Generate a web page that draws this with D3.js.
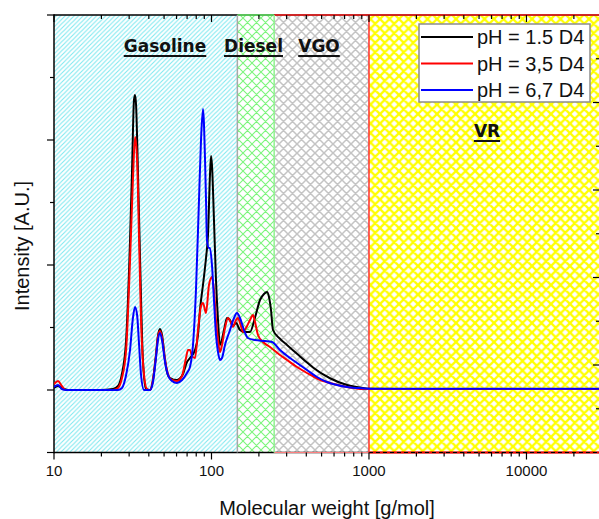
<!DOCTYPE html>
<html><head><meta charset="utf-8">
<script src="https://cdn.jsdelivr.net/npm/d3@7"></script>
<style>html,body{margin:0;padding:0;background:#fff;} svg{display:block;font-family:"Liberation Sans",Arial,sans-serif;}</style>
</head><body><svg id="c" width="599" height="519"></svg>
<script>
// ---------------- data ----------------
const seriesNames = ["pH = 1.5 D4", "pH = 3,5 D4", "pH = 6,7 D4"];
const seriesColors = ["#000000", "#ff0000", "#0000ff"];

const mwBlack = [10,10.6,11.2,12.3,19.6,23.7,25.5,27.0,28.7,30.4,31.3,32.2,32.7,33.2,34.1,35.2,36.7,38.4,40.7,42.5,44.4,45.7,47.1,48.5,50.7,52.2,54.5,60.4,65.9,69.9,73.0,78.6,82.1,84.5,88.3,92.3,95.0,97.8,99.3,100.7,103.7,106.8,110.0,113.2,120.1,125.4,131.1,136.9,143.1,151.7,163.2,175.6,189.0,203.2,215.4,225.1,231.8,238.7,245.8,272.2,301.6,349.2,403.9,441.0,565.4,725.2,916.1,1014.6,1573,29300];
const intBlack = [0.016,0.032,0.016,0,0,0.008,0.032,0.128,0.40,1.20,1.76,2.32,2.36,2.28,1.76,1.04,0.24,0.008,0,0.08,0.28,0.432,0.488,0.44,0.24,0.144,0.096,0.08,0.128,0.224,0.256,0.32,0.44,0.64,0.84,1.056,1.24,1.72,1.872,1.80,1.36,0.88,0.56,0.36,0.48,0.576,0.56,0.512,0.536,0.48,0.464,0.464,0.58,0.72,0.768,0.784,0.744,0.64,0.48,0.41,0.36,0.29,0.22,0.18,0.094,0.04,0.016,0.01,0.008,0.008];

const mwRed = [10,10.6,11.2,11.9,19.6,23.7,25.5,27.0,28.7,30.4,31.7,32.7,33.7,34.7,35.7,37.3,38.9,40.7,42.5,44.4,45.7,47.1,48.5,50.7,52.9,56.1,60.4,65.0,68.9,70.9,73.0,75.2,78.6,82.1,85.8,88.3,92.3,96.4,100.7,103.7,106.8,110.0,113.2,116.6,121.8,127.3,133.0,136.9,143.1,147.3,153.9,158.5,165.6,175.6,183.5,189.0,197.4,212.3,235.2,272.2,301.6,349.2,403.9,474.5,565.4,725.2,916.1,1014.6,1573,29300];
const intRed = [0.048,0.072,0.032,0,0,0,0.016,0.096,0.32,1.04,1.68,2.024,1.84,1.20,0.56,0.12,0.008,0,0.08,0.272,0.424,0.472,0.424,0.24,0.128,0.08,0.072,0.112,0.256,0.32,0.32,0.272,0.256,0.48,0.672,0.696,0.616,0.84,0.904,0.80,0.56,0.40,0.304,0.36,0.496,0.576,0.536,0.504,0.56,0.576,0.512,0.464,0.496,0.56,0.60,0.544,0.44,0.384,0.344,0.28,0.24,0.184,0.136,0.088,0.056,0.024,0.008,0.008,0.008,0.008];

const mwBlue = [10,10.6,11.2,11.9,25.5,27.0,28.7,30.4,31.7,32.7,33.7,34.7,35.7,37.3,40.7,42.5,44.4,45.7,47.1,48.5,50.7,52.9,56.1,60.4,65.0,69.9,73.0,76.3,79.7,83.3,85.8,88.3,91.0,92.3,93.6,96.4,97.8,100.7,103.7,106.8,110.0,113.2,116.6,121.8,131.1,139.0,145.2,151.7,160.8,170.5,189.0,218.7,242.2,272.2,315.1,349.2,403.9,467.6,541.2,626.4,725.2,839.2,1014.6,1573,29300];
const intBlue = [0.024,0.04,0.008,0,0,0.016,0.12,0.32,0.576,0.664,0.60,0.36,0.12,0,0,0.064,0.256,0.40,0.456,0.40,0.224,0.12,0.072,0.056,0.08,0.136,0.184,0.36,0.80,1.52,2.0,2.248,1.84,1.52,1.20,1.136,1.136,1.0,0.72,0.44,0.304,0.24,0.256,0.36,0.48,0.576,0.616,0.576,0.48,0.416,0.40,0.392,0.384,0.32,0.256,0.216,0.16,0.104,0.064,0.04,0.024,0.016,0.01,0.01,0.01];

const regionNames = ["Gasoline", "Diesel", "VGO", "VR"];
const regionStart = [10, 146, 250, 1000];
const regionEnd   = [146, 250, 1000, 29300];

const xDomain = [10, 29300];
const yDomain = [-0.5, 3];
const y2Domain = [0, 10];
const xTickLabels = ["10", "100", "1000", "10000"];
const xMajor = [10, 100, 1000, 10000];

// ---------------- layout ----------------
const L = 54, R = 600, T = 15, B = 452.5;
const svg = d3.select("#c");
svg.append("rect").attr("width", 599).attr("height", 519).attr("fill", "#fff");

const x = d3.scaleLog().domain(xDomain).range([L, R]);
const y = d3.scaleLinear().domain(yDomain).range([B, T]);
const y2 = d3.scaleLinear().domain(y2Domain).range([B, T]);

const defs = svg.append("defs");
function pat(id, s, color, w, cross) {
  const p = defs.append("pattern").attr("id", id).attr("patternUnits", "userSpaceOnUse")
    .attr("width", s).attr("height", s);
  p.append("rect").attr("width", s).attr("height", s).attr("fill", "#fff");
  let d = `M0,${s} L${s},0 M-1,1 L1,-1 M${s-1},${s+1} L${s+1},${s-1}`;
  if (cross) d += ` M0,0 L${s},${s} M-1,${s-1} L1,${s+1} M${s-1},-1 L${s+1},1`;
  p.append("path").attr("d", d).attr("stroke", color).attr("stroke-width", w).attr("fill", "none");
}
pat("pGas", 4.5, "#7ee9f0", 1.1, false);
pat("pDie", 9, "#7cf57c", 1.1, true);
pat("pVgo", 9, "#c4c4c4", 1.5, true);
pat("pVr", 9.5, "#ffff00", 2.3, true);
const fills = ["url(#pGas)", "url(#pDie)", "url(#pVgo)", "url(#pVr)"];

defs.append("clipPath").attr("id", "plotClip").append("rect")
  .attr("x", L).attr("y", T).attr("width", R - L).attr("height", B - T);

const gReg = svg.append("g").attr("clip-path", "url(#plotClip)");
regionNames.forEach((n, i) => {
  gReg.append("rect")
    .attr("x", x(regionStart[i])).attr("y", T)
    .attr("width", x(regionEnd[i]) - x(regionStart[i])).attr("height", B - T)
    .attr("fill", fills[i]);
});

// axis frame
const ax = svg.append("g").attr("stroke", "#000").attr("stroke-width", 1.5).attr("fill", "none");
ax.append("line").attr("x1", L).attr("x2", R).attr("y1", B).attr("y2", B);
ax.append("line").attr("x1", L).attr("x2", R).attr("y1", T).attr("y2", T);
ax.append("line").attr("x1", L).attr("x2", L).attr("y1", T - 0.75).attr("y2", B + 0.75);

// region borders
defs.append("clipPath").attr("id", "plotClip2").append("rect")
  .attr("x", L).attr("y", T - 2).attr("width", R - L).attr("height", B - T + 4);
const bd = svg.append("g").attr("fill", "none").attr("clip-path", "url(#plotClip2)");
bd.append("line").attr("x1", x(regionStart[1])).attr("x2", x(regionEnd[1])).attr("y1", T).attr("y2", T).attr("stroke", "#66ee66").attr("stroke-width", 1.5);
bd.append("line").attr("x1", x(regionStart[2])).attr("x2", x(regionEnd[3])).attr("y1", T).attr("y2", T).attr("stroke", "#ff2020").attr("stroke-width", 1.5);
bd.append("line").attr("x1", x(regionStart[2])).attr("x2", x(regionStart[3])).attr("y1", B).attr("y2", B).attr("stroke", "#ff8080").attr("stroke-width", 1);
bd.append("line").attr("x1", x(regionStart[3])).attr("x2", x(regionEnd[3])).attr("y1", B).attr("y2", B).attr("stroke", "#ff0000").attr("stroke-width", 2.2);
bd.append("line").attr("x1", x(regionStart[3])).attr("x2", x(regionEnd[3])).attr("y1", B).attr("y2", B).attr("stroke", "#000").attr("stroke-width", 1).attr("stroke-dasharray", "4,3");
bd.append("line").attr("x1", x(regionEnd[0])).attr("x2", x(regionEnd[0])).attr("y1", T).attr("y2", B).attr("stroke", "#a8a8a8").attr("stroke-width", 1.5);
bd.append("line").attr("x1", x(regionEnd[1])).attr("x2", x(regionEnd[1])).attr("y1", T).attr("y2", B).attr("stroke", "#90f090").attr("stroke-width", 1.5);
bd.append("line").attr("x1", x(regionEnd[2])).attr("x2", x(regionEnd[2])).attr("y1", T).attr("y2", B).attr("stroke", "#ff3030").attr("stroke-width", 1.5);

// ticks
const tk = svg.append("g").attr("stroke", "#000").attr("stroke-width", 1.2);
const xt = x.ticks().filter(v => v >= xDomain[0] && v <= xDomain[1]);
xt.forEach(v => {
  const major = xMajor.includes(v);
  const len = major ? 7 : 4;
  tk.append("line").attr("x1", x(v)).attr("x2", x(v)).attr("y1", B).attr("y2", B + len);
  tk.append("line").attr("x1", x(v)).attr("x2", x(v)).attr("y1", T).attr("y2", T + len);
});
d3.range(yDomain[0], yDomain[1] + 0.01, 0.5).forEach(v => {
  const major = Math.abs(v - Math.round(v)) > 0.01 && v > -0.4 ? false : true;
  const len = major ? 7 : 4;
  tk.append("line").attr("x1", L - len).attr("x2", L).attr("y1", y(v)).attr("y2", y(v));
});
d3.range(1, 10).forEach(v => {
  const len = v % 2 === 0 ? 7 : 4;
  tk.append("line").attr("x1", R - len).attr("x2", R).attr("y1", y2(v)).attr("y2", y2(v));
});

// tick labels
svg.append("g").selectAll("text").data(xMajor).join("text")
  .attr("x", d => x(d)).attr("y", 476).attr("text-anchor", "middle")
  .attr("font-size", 15).attr("fill", "#111")
  .text((d, i) => xTickLabels[i]);

// axis titles
svg.append("text").attr("x", 327).attr("y", 515).attr("text-anchor", "middle")
  .attr("font-size", 20).attr("fill", "#111").text("Molecular weight [g/mol]");
svg.append("text").attr("transform", "translate(29,246) rotate(-90)").attr("text-anchor", "middle")
  .attr("font-size", 20).attr("fill", "#111").text("Intensity [A.U.]");

// region labels
const labelPos = [[165, 52], [253.5, 52], [319, 52], [487, 137]];
regionNames.forEach((n, i) => {
  const t = svg.append("text").attr("x", labelPos[i][0]).attr("y", labelPos[i][1])
    .attr("text-anchor", "middle").attr("font-family", "'DejaVu Sans', sans-serif")
    .attr("font-weight", "bold").attr("font-size", 17).attr("fill", "#111").text(n);
  const w = t.node().getComputedTextLength();
  svg.append("line").attr("x1", labelPos[i][0] - w / 2).attr("x2", labelPos[i][0] + w / 2)
    .attr("y1", labelPos[i][1] + 4).attr("y2", labelPos[i][1] + 4)
    .attr("stroke", "#111").attr("stroke-width", 2);
});

// series
const series = [
  mwBlack.map((m, i) => [m, intBlack[i]]),
  mwRed.map((m, i) => [m, intRed[i]]),
  mwBlue.map((m, i) => [m, intBlue[i]])
];
const line = d3.line().x(d => x(d[0])).y(d => y(d[1])).curve(d3.curveMonotoneX);
const gL = svg.append("g").attr("clip-path", "url(#plotClip)");
series.forEach((s, i) => {
  gL.append("path").attr("d", line(s)).attr("fill", "none")
    .attr("stroke", seriesColors[i]).attr("stroke-width", 2).attr("stroke-linejoin", "round");
});

// legend
const lg = svg.append("g");
lg.append("rect").attr("x", 419).attr("y", 24).attr("width", 171).attr("height", 78)
  .attr("fill", "#fff").attr("stroke", "#8c8c8c").attr("stroke-width", 1.5);
seriesNames.forEach((n, i) => {
  const yy = 37 + i * 26.5;
  lg.append("line").attr("x1", 421).attr("x2", 473).attr("y1", yy).attr("y2", yy)
    .attr("stroke", seriesColors[i]).attr("stroke-width", 2);
  lg.append("text").attr("x", 477).attr("y", yy + 7).attr("font-size", 20).attr("fill", "#111").text(n);
});
</script></body></html>
